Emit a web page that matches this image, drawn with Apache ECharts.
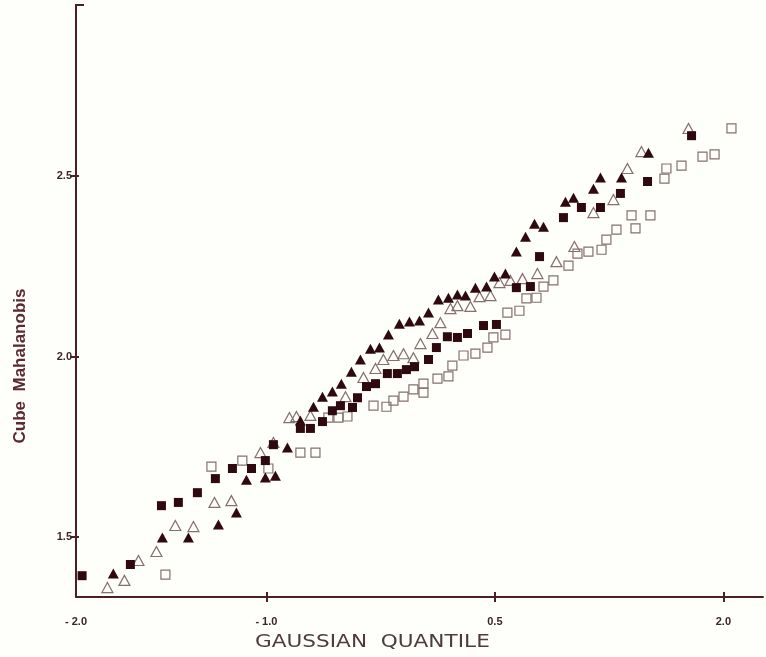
<!DOCTYPE html>
<html>
<head>
<meta charset="utf-8">
<style>
html,body{margin:0;padding:0;background:#fefefa;}
#c{width:766px;height:657px;}
</style>
<script src="https://cdn.jsdelivr.net/npm/echarts@6/dist/echarts.min.js"></script>
</head>
<body>
<div id="c"></div>
<script>
// Axis ranges and ticks
const xMin = -2.25, xMax = 2.26;
const yMin = 1.334, yMax = 2.974;
const xTickValues = [-1.0, 0.5, 2.0];
const xLabelValues = [-2.25, -1.0, 0.5, 2.0];
const xLabelTexts = ['- 2.0', '- 1.0', '0.5', '2.0'];
const yTickValues = [1.5, 2.0, 2.5];
const yLabelTexts = ['1.5', '2.0', '2.5'];

// Series values [gaussian quantile, cube Mahalanobis]
const filledSquares = [
  [-2.210,1.393],[-1.893,1.424],[-1.689,1.587],[-1.578,1.596],[-1.453,1.623],[-1.335,1.662],
  [-1.223,1.690],[-1.098,1.690],[-1.007,1.712],[-0.954,1.756],[-0.777,1.801],[-0.711,1.801],
  [-0.632,1.820],[-0.567,1.850],[-0.514,1.864],[-0.435,1.859],[-0.402,1.886],[-0.343,1.917],
  [-0.284,1.925],[-0.206,1.953],[-0.140,1.953],[-0.081,1.964],[-0.028,1.972],[0.064,1.992],
  [0.116,2.025],[0.188,2.055],[0.254,2.053],[0.320,2.064],[0.425,2.086],[0.510,2.089],
  [0.641,2.191],[0.733,2.194],[0.793,2.277],[0.950,2.385],[1.068,2.413],[1.193,2.413],
  [1.324,2.452],[1.502,2.485],[1.791,2.612]
];
const filledTriangles = [
  [-2.005,1.399],[-1.683,1.499],[-1.512,1.499],[-1.315,1.535],[-1.197,1.568],[-1.131,1.659],
  [-1.007,1.665],[-0.941,1.670],[-0.862,1.748],[-0.777,1.823],[-0.691,1.861],[-0.632,1.889],
  [-0.567,1.903],[-0.508,1.925],[-0.442,1.958],[-0.383,1.992],[-0.317,2.022],[-0.258,2.025],
  [-0.199,2.061],[-0.127,2.091],[-0.061,2.097],[0.005,2.100],[0.064,2.122],[0.129,2.158],
  [0.195,2.163],[0.254,2.172],[0.307,2.169],[0.372,2.191],[0.445,2.194],[0.497,2.222],
  [0.569,2.230],[0.641,2.291],[0.701,2.332],[0.760,2.368],[0.819,2.360],[0.963,2.429],
  [1.016,2.440],[1.147,2.465],[1.193,2.496],[1.331,2.496],[1.508,2.565]
];
const openTriangles = [
  [-2.044,1.360],[-1.932,1.380],[-1.840,1.435],[-1.722,1.460],[-1.598,1.532],[-1.479,1.529],
  [-1.341,1.596],[-1.230,1.601],[-1.039,1.734],[-0.954,1.762],[-0.849,1.831],[-0.803,1.834],
  [-0.711,1.837],[-0.481,1.889],[-0.363,1.942],[-0.284,1.967],[-0.232,1.992],[-0.166,2.003],
  [-0.100,2.008],[-0.035,1.997],[0.011,2.036],[0.090,2.064],[0.142,2.094],[0.208,2.133],
  [0.254,2.141],[0.339,2.139],[0.399,2.166],[0.471,2.169],[0.530,2.205],[0.602,2.211],
  [0.681,2.216],[0.779,2.230],[0.904,2.263],[1.022,2.305],[1.147,2.399],[1.278,2.435],
  [1.370,2.521],[1.462,2.568],[1.771,2.632]
];
const openSquares = [
  [-1.663,1.396],[-1.361,1.695],[-1.158,1.712],[-0.987,1.690],[-0.777,1.734],[-0.678,1.734],
  [-0.593,1.831],[-0.527,1.831],[-0.468,1.834],[-0.297,1.864],[-0.212,1.861],[-0.166,1.878],
  [-0.100,1.889],[-0.035,1.909],[0.031,1.900],[0.031,1.925],[0.123,1.939],[0.195,1.945],
  [0.221,1.975],[0.294,2.003],[0.372,2.008],[0.451,2.025],[0.490,2.053],[0.569,2.061],
  [0.582,2.122],[0.661,2.127],[0.707,2.161],[0.773,2.163],[0.819,2.194],[0.884,2.211],
  [0.983,2.252],[1.042,2.285],[1.114,2.291],[1.200,2.296],[1.232,2.324],[1.298,2.352],
  [1.397,2.391],[1.423,2.355],[1.521,2.391],[1.613,2.493],[1.626,2.521],[1.725,2.529],
  [1.863,2.554],[1.942,2.560],[2.053,2.632]
];

const axisColor = '#4a1f25';
const darkFill = '#2e0a0e';
const openStroke = '#85706e';
const labelFont = {fontFamily:'Liberation Sans', fontSize:11, fontWeight:'bold', color:'#3a2626'};

const chart = echarts.init(document.getElementById('c'), null, {renderer:'canvas'});
const option = {
  backgroundColor:'#fefefa',
  animation:false,
  grid:{left:76, right:3, top:5, bottom:60},
  xAxis:[{
    type:'value', min:xMin, max:xMax, position:'bottom',
    axisLine:{show:true, onZero:false, lineStyle:{color:axisColor, width:2}},
    axisTick:{show:true, length:5, customValues:xTickValues, lineStyle:{color:axisColor, width:2}},
    axisLabel:{show:true, customValues:xLabelValues, margin:19, ...labelFont,
      formatter:function(v){const i=xLabelValues.findIndex(t=>Math.abs(t-v)<1e-6);return i>=0?xLabelTexts[i]:'';}},
    splitLine:{show:false}
  },{
    type:'value', min:xMin, max:xMax, position:'bottom',
    axisLine:{show:false, onZero:false},
    axisTick:{show:true, inside:true, length:5, customValues:xTickValues, lineStyle:{color:axisColor, width:2}},
    axisLabel:{show:false}, splitLine:{show:false}
  }],
  yAxis:[{
    type:'value', min:yMin, max:yMax, position:'left',
    axisLine:{show:true, onZero:false, lineStyle:{color:axisColor, width:2}},
    axisTick:{show:true, length:6, customValues:yTickValues, lineStyle:{color:axisColor, width:2}},
    axisLabel:{show:true, customValues:yTickValues, margin:4, ...labelFont,
      formatter:function(v){const i=yTickValues.findIndex(t=>Math.abs(t-v)<1e-6);return i>=0?yLabelTexts[i]:'';}},
    splitLine:{show:false}
  },{
    type:'value', min:yMin, max:yMax, position:'left',
    axisLine:{show:false, onZero:false},
    axisTick:{show:true, inside:true, length:3, customValues:yTickValues, lineStyle:{color:axisColor, width:2}},
    axisLabel:{show:false}, splitLine:{show:false}
  }],
  series:[
    {name:'open squares', type:'scatter', data:openSquares, symbol:'rect', symbolSize:9,
     itemStyle:{color:'rgba(255,255,255,0)', borderColor:openStroke, borderWidth:1.2, opacity:1}},
    {name:'open triangles', type:'scatter', data:openTriangles, symbol:'triangle', symbolSize:[11,10],
     itemStyle:{color:'rgba(255,255,255,0)', borderColor:openStroke, borderWidth:1.2, opacity:1}},
    {name:'filled squares', type:'scatter', data:filledSquares, symbol:'rect', symbolSize:9,
     itemStyle:{color:darkFill, opacity:1}},
    {name:'filled triangles', type:'scatter', data:filledTriangles, symbol:'triangle', symbolSize:[11,10],
     itemStyle:{color:darkFill, opacity:1}}
  ]
};
chart.setOption(option);
const cornerPx = chart.convertToPixel({xAxisIndex:0, yAxisIndex:0}, [xMin, yMax]);
chart.setOption({
  graphic:[
    {type:'line', shape:{x1:cornerPx[0]-1, y1:cornerPx[1], x2:cornerPx[0]+8, y2:cornerPx[1]}, style:{stroke:axisColor, lineWidth:2}},
    {type:'text', x:255, y:642, scaleX:1.2,
     style:{text:'GAUSSIAN  QUANTILE', fontFamily:'DejaVu Sans', fontSize:18, fill:'#4e3c3c', textAlign:'left', textVerticalAlign:'middle'}},
    {type:'text', x:20, y:366, rotation:Math.PI/2,
     style:{text:'Cube  Mahalanobis', fontFamily:'Liberation Sans', fontSize:17, fontWeight:'bold', fill:'#5a2a30', textAlign:'center', textVerticalAlign:'middle'}}
  ]
});
</script>
</body>
</html>
